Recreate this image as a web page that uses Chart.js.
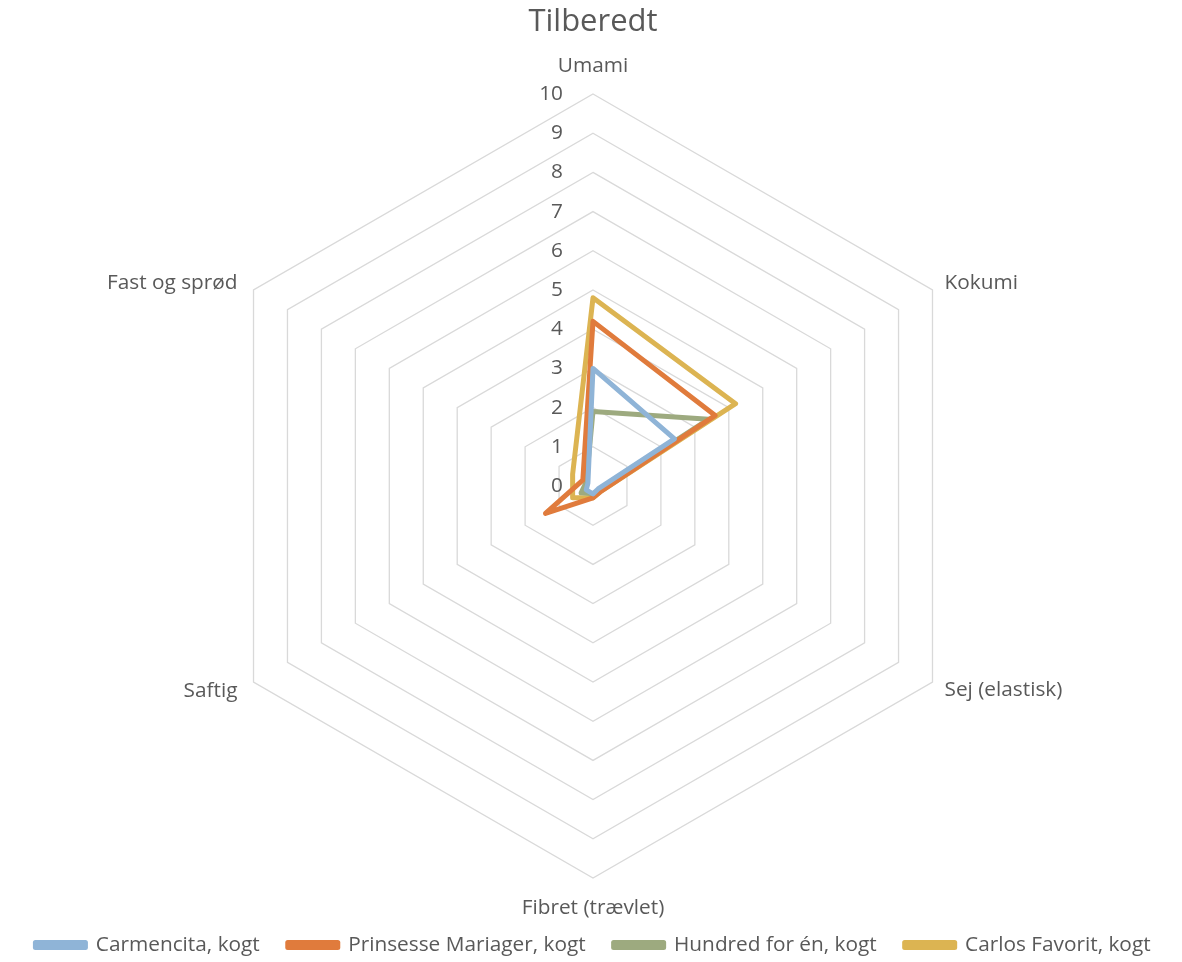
<!DOCTYPE html>
<html lang="da">
<head>
<meta charset="UTF-8">
<title>Tilberedt</title>
<script src="https://cdn.jsdelivr.net/npm/chart.js"></script>
<style>
  html, body { margin: 0; padding: 0; background: #fff; }
  #wrap { width: 1182px; height: 962px; }
</style>
</head>
<body>
<div id="wrap"><canvas id="radar"></canvas></div>
<script>
const categories = ['Umami', 'Kokumi', 'Sej (elastisk)', 'Fibret (trævlet)', 'Saftig', 'Fast og sprød'];
const carmencita = [3.0, 2.4, 0.15, 0.2, 0.2, 0.15];
const prinsesse = [4.2, 3.6, 0.25, 0.3, 1.4, 0.3];
const hundred = [1.9, 3.4, 0.2, 0.2, 0.35, 0.2];
const carlos = [4.8, 4.2, 0.25, 0.3, 0.6, 0.6];
const tickValues = [0, 1, 2, 3, 4, 5, 6, 7, 8, 9, 10];

const FONT = "'Open Sans', sans-serif";
const GREY = '#595959';
const TXT = 20.8;

function series(label, data, color) {
  return {
    label: label,
    data: data,
    borderColor: color,
    backgroundColor: color,
    borderWidth: 5,
    fill: false,
    pointRadius: 0,
    pointHoverRadius: 0,
    borderJoinStyle: 'round'
  };
}

// axis texts drawn like Excel does: numbers left of the vertical axis,
// category names just outside the outer ring
const radarText = {
  id: 'radarText',
  afterDatasetsDraw(chart) {
    const scale = chart.scales.r;
    const ctx = chart.ctx;
    ctx.save();
    ctx.font = TXT + 'px ' + FONT;
    ctx.fillStyle = GREY;
    ctx.textBaseline = 'middle';

    ctx.textAlign = 'right';
    tickValues.forEach(v => {
      const p = scale.getPointPositionForValue(0, v);
      ctx.fillText(String(v), p.x - 30, p.y);
    });

    categories.forEach((name, i) => {
      const p = scale.getPointPosition(i, scale.drawingArea);
      const dx = p.x - scale.xCenter;
      const dy = p.y - scale.yCenter;
      if (Math.abs(dx) < 1) {
        ctx.textAlign = 'center';
        ctx.fillText(name, p.x, p.y + (dy < 0 ? -28 : 30));
      } else if (dx > 0) {
        ctx.textAlign = 'left';
        ctx.fillText(name, p.x + 12, p.y + (dy < 0 ? -7 : 8));
      } else {
        ctx.textAlign = 'right';
        ctx.fillText(name, p.x - 16, p.y + (dy < 0 ? -7 : 9));
      }
    });
    ctx.restore();
  }
};

new Chart(document.getElementById('radar'), {
  type: 'radar',
  data: {
    labels: categories,
    datasets: [
      series('Carmencita, kogt', carmencita, '#8FB4D7'),
      series('Prinsesse Mariager, kogt', prinsesse, '#E07B3C'),
      series('Hundred for én, kogt', hundred, '#9DAA7F'),
      series('Carlos Favorit, kogt', carlos, '#DCB452')
    ]
  },
  options: {
    responsive: true,
    maintainAspectRatio: false,
    animation: false,
    layout: { padding: { top: 0, bottom: 0, left: 4, right: 0 } },
    plugins: {
      title: {
        display: true,
        text: 'Tilberedt',
        color: GREY,
        font: { family: FONT, size: 31, weight: 'normal' },
        padding: { top: 3.4, bottom: 53.4 }
      },
      // empty spacer between the radar and the legend
      subtitle: {
        display: true,
        text: '',
        position: 'bottom',
        weight: 500,
        font: { size: 10 },
        padding: { top: 16.6, bottom: 0 }
      },
      legend: {
        position: 'bottom',
        maxHeight: 55.4,
        labels: {
          color: GREY,
          font: { family: FONT, size: TXT },
          boxWidth: 50,
          boxHeight: 5,
          padding: 28
        }
      },
      tooltip: { enabled: false }
    },
    scales: {
      r: {
        min: 0,
        max: 10,
        ticks: { stepSize: 1, display: false },
        angleLines: { display: false },
        grid: { color: '#D9D9D9', lineWidth: 1.3 },
        pointLabels: { display: false }
      }
    }
  },
  plugins: [radarText]
});
</script>
</body>
</html>
